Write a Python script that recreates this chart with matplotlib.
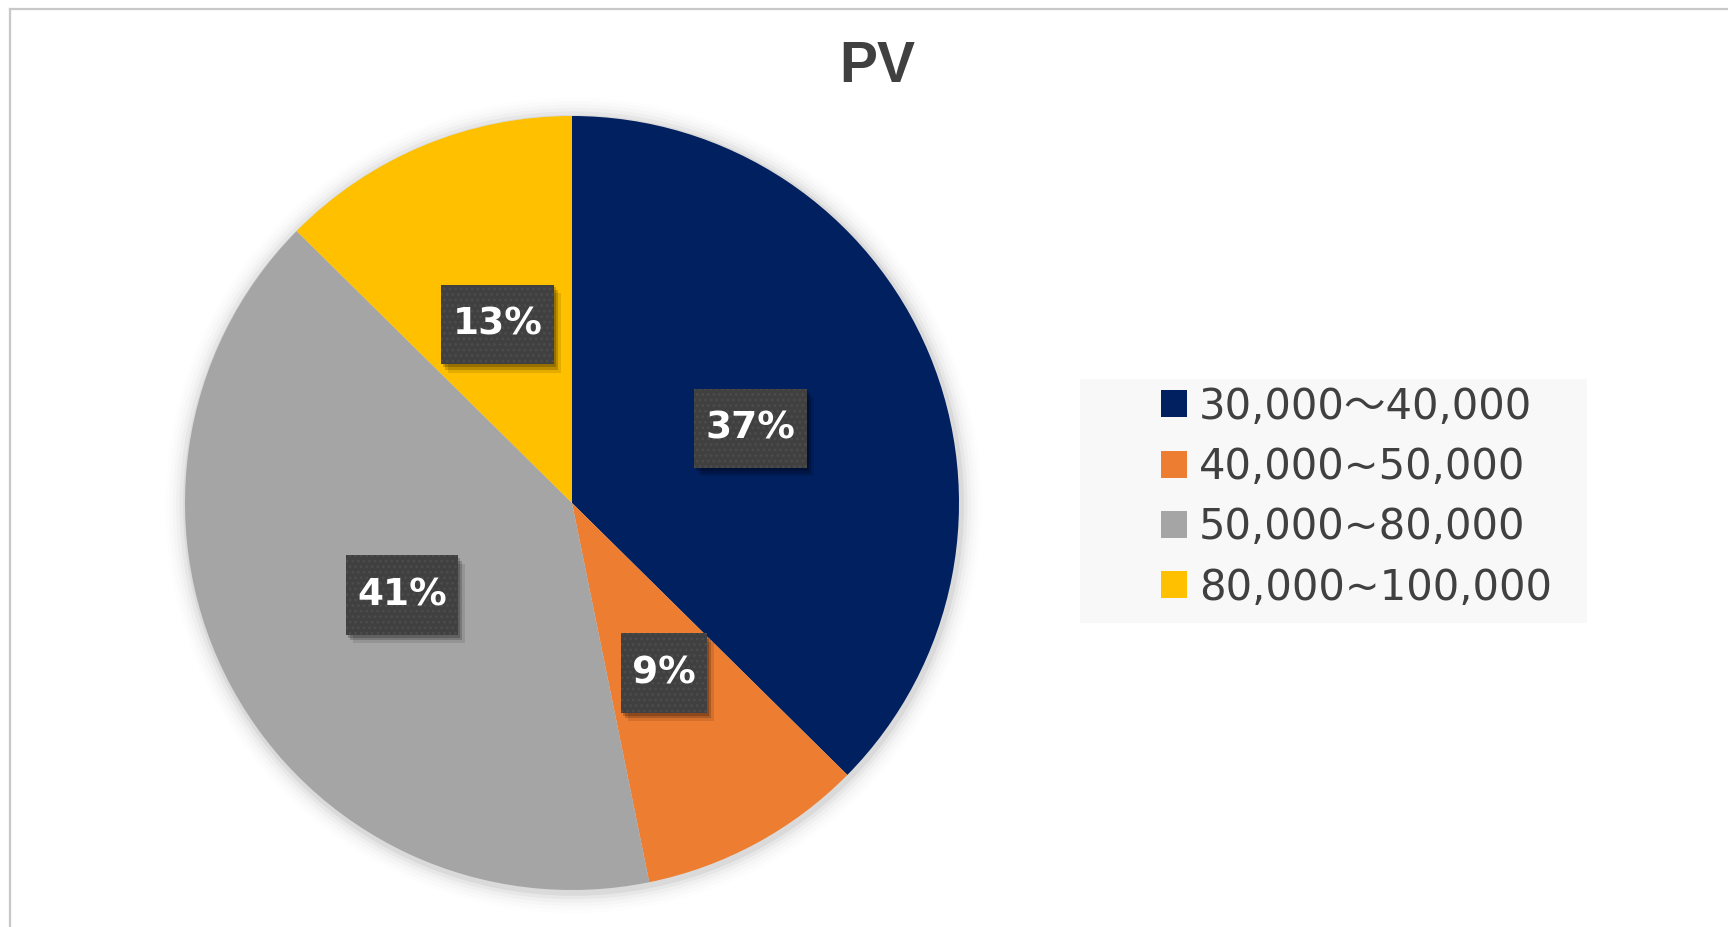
import matplotlib.pyplot as plt
import matplotlib
from matplotlib.patches import Patch, Rectangle, Circle
from matplotlib.lines import Line2D
from matplotlib.path import Path
import matplotlib.patheffects as pe

matplotlib.rcParams['font.family'] = ['DejaVu Sans', 'Noto Sans CJK JP']
matplotlib.rcParams['hatch.linewidth'] = 1.2

title = 'PV'
categories = ['30,000～40,000', '40,000~50,000', '50,000~80,000', '80,000~100,000']
shares = [37.4, 9.4, 40.6, 12.6]
colors = ['#002060', '#ED7D31', '#A5A5A5', '#FFC000']

W, H = 1728, 927
fig = plt.figure(figsize=(W / 100, H / 100), dpi=100)
fig.patch.set_facecolor('white')

# chart border (only top and left edges visible)
fig.add_artist(Line2D([10 / W, 1.0], [1 - 9 / H, 1 - 9 / H], color='#c8c8c8', lw=1.6))
fig.add_artist(Line2D([10 / W, 10 / W], [0, 1 - 9 / H], color='#c8c8c8', lw=1.6))

# pie axes: center (572, 503), radius 387 px
cx, cy, r = 572, 503, 387
ax = fig.add_axes([(cx - r) / W, (H - cy - r) / H, 2 * r / W, 2 * r / H])

# soft shadow around the pie
for i, a in enumerate([0.05, 0.035, 0.025, 0.015, 0.01, 0.006]):
    ax.add_patch(Circle((0.004, -0.006), 1 + 0.009 * (i + 1), color='black', alpha=a,
                        lw=0, zorder=0, clip_on=False))


def label_box(x0, y0, width, height, mutation_size):
    px = 0.3 * mutation_size
    py = 0.58 * mutation_size
    x0, y0 = x0 - px, y0 - py
    x1, y1 = x0 + width + 2 * px, y0 + height + 2 * py
    return Path([(x0, y0), (x1, y0), (x1, y1), (x0, y1), (x0, y0)], closed=True)


class PlainShadow(pe.SimplePatchShadow):
    # shadow without the hatch dots
    def draw_path(self, renderer, gc, tpath, affine, rgbFace):
        gc0 = renderer.new_gc()
        gc0.copy_properties(gc)
        gc0.set_hatch(None)
        super().draw_path(renderer, gc0, tpath, affine, rgbFace)
        gc0.restore()


wedges, texts, autotexts = ax.pie(
    shares, colors=colors, startangle=90, counterclock=False,
    autopct='%.0f%%', pctdistance=0.5,
    wedgeprops=dict(linewidth=0),
    textprops=dict(color='white', fontsize=27, fontweight='bold'))
ax.set_xlim(-1, 1)
ax.set_ylim(-1, 1)
ax.set_aspect('equal')
ax.axis('off')

for t in autotexts:
    t.set_bbox(dict(boxstyle=label_box, facecolor='#404040', edgecolor='#4c4c4c',
                    linewidth=0, hatch='...'))
    t.get_bbox_patch().set_path_effects([
        PlainShadow(offset=(5, -6), shadow_rgbFace='#000000', alpha=0.10),
        PlainShadow(offset=(3, -4), shadow_rgbFace='#000000', alpha=0.18),
        PlainShadow(offset=(1.5, -2), shadow_rgbFace='#000000', alpha=0.2),
        pe.Normal()])

fig.text(877 / W, 1 - 67 / H, title, ha='center', va='center', fontsize=41,
         fontweight='bold', color='#404040', family='Liberation Sans')

# legend background
fig.add_artist(Rectangle((1080 / W, 1 - 623 / H), 507 / W, 244 / H,
                         transform=fig.transFigure, facecolor='#f8f8f8', edgecolor='none'))

handles = [Patch(facecolor=c, edgecolor='none') for c in colors]
fig.legend(handles, categories, loc='center left',
           bbox_to_anchor=(1140 / W, 1 - 497 / H), frameon=False,
           fontsize=30, labelcolor='#404040', handlelength=0.62, handleheight=0.62,
           handletextpad=0.3, labelspacing=0.44, borderpad=0)

fig.savefig('out.png', dpi=100)
